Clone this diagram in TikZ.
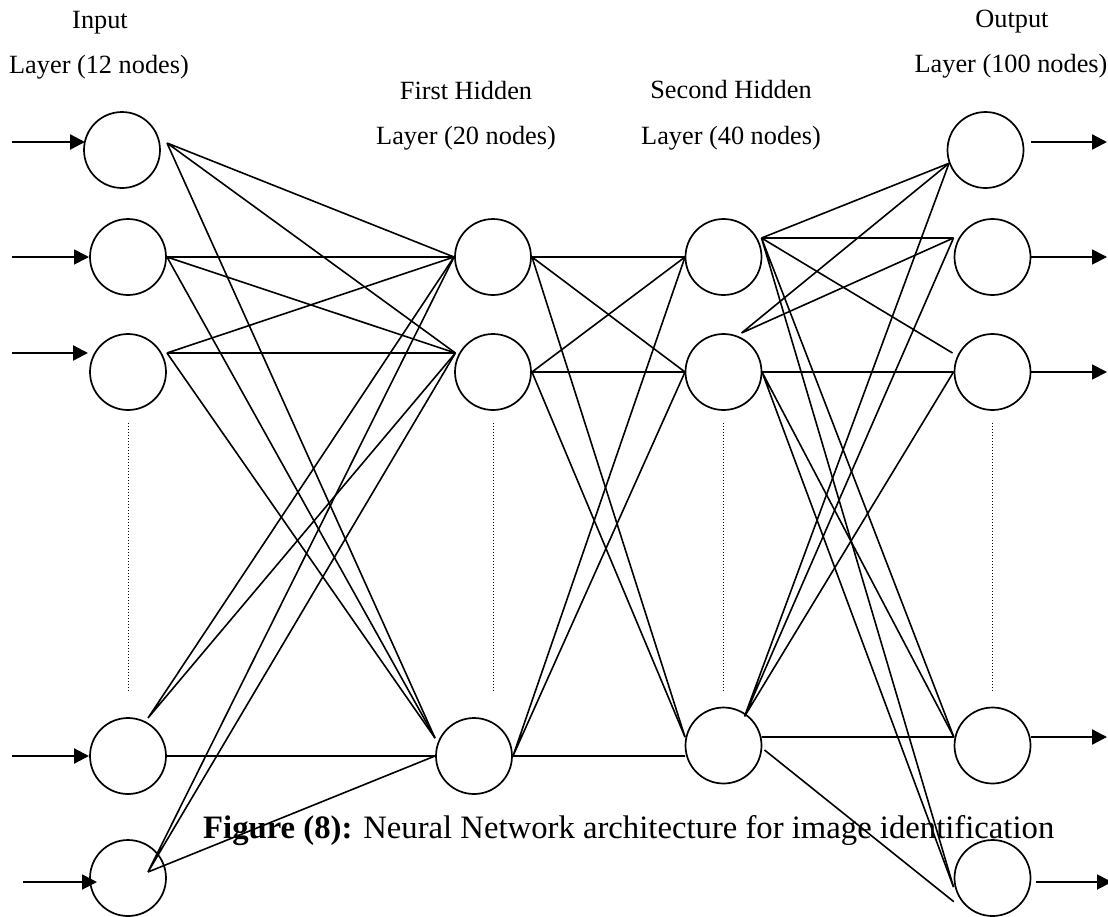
\documentclass[tikz,border=0pt]{standalone}
\usepackage{fontspec}
\setmainfont{Liberation Serif}
\usetikzlibrary{arrows.meta,calc}
\begin{document}
\begin{tikzpicture}[x=1pt,y=-1pt,
  neuron/.style={circle,draw,line width=1.7pt,minimum size=76pt,inner sep=0pt},
  link/.style={line width=1.6pt},
  feed/.style={line width=1.8pt,-{Triangle[length=15pt,width=15pt]}},
  feedbold/.style={feed,line width=2.3pt},
  gap/.style={line width=1pt,dash pattern=on 1pt off 2pt},
  layername/.style={anchor=base,inner sep=0pt,font=\fontsize{26.3}{30}\selectfont},
  captiontext/.style={anchor=base west,inner sep=0pt,font=\fontsize{32.7}{38}\selectfont},
]
\useasboundingbox (0,0) rectangle (1108,916);

% ---------- neurons ----------
\node[neuron] (i1) at (122,150) {};
\node[neuron] (i2) at (128,257) {};
\node[neuron] (i3) at (128,372) {};
\node[neuron] (i4) at (128,756) {};
\node[neuron] (i5) at (128,878) {};

\node[neuron] (a1) at (493,257) {};
\node[neuron] (a2) at (493,372) {};
\node[neuron] (a3) at (474,756) {};

\node[neuron] (b1) at (723.5,257) {};
\node[neuron] (b2) at (723.5,372) {};
\node[neuron] (b3) at (723.5,745.5) {};

\node[neuron] (o1) at (985.5,150) {};
\node[neuron] (o2) at (992.5,257) {};
\node[neuron] (o3) at (992.5,372) {};
\node[neuron] (o4) at (992.5,745.5) {};
\node[neuron] (o5) at (992.5,878) {};

% ---------- layer titles ----------
\node[layername] (tin1)  at (100,28)  {Input};
\node[layername] (tin2)  at (99,73)   {Layer (12 nodes)};
\node[layername] (th1a)  at (466,99)  {First Hidden};
\node[layername] (th1b)  at (466,144) {Layer (20 nodes)};
\node[layername] (th2a)  at (731,98)  {Second Hidden};
\node[layername] (th2b)  at (731,144) {Layer (40 nodes)};
\node[layername] (tout1) at (1012,27) {Output};
\node[layername] (tout2) at (1011,72) {Layer (100 nodes)};

% ---------- connection ports ----------
\coordinate (i1r) at ($(i1)+(45,-7)$);
\coordinate (i2r) at ($(i2)+(39,0)$);
\coordinate (i3r) at ($(i3)+(39,-19)$);
\coordinate (i4t) at ($(i4)+(20,-38)$);
\coordinate (i4r) at ($(i4)+(38,0)$);
\coordinate (i5p) at ($(i5)+(20,-6)$);

\coordinate (a1l) at ($(a1)+(-39,0)$);
\coordinate (a1r) at ($(a1)+(39,0)$);
\coordinate (a2l) at ($(a2)+(-37.6,-19)$);
\coordinate (a2r) at ($(a2)+(39,0)$);
\coordinate (a3t) at ($(a3)+(-39,-18)$);
\coordinate (a3l) at ($(a3)+(-39,0)$);
\coordinate (a3r) at ($(a3)+(39,0)$);

\coordinate (b1l) at ($(b1)+(-38.5,0)$);
\coordinate (b1r) at ($(b1)+(38,-19)$);
\coordinate (b2l) at ($(b2)+(-38.5,0)$);
\coordinate (b2t) at ($(b2)+(18,-39)$);
\coordinate (b2r) at ($(b2)+(38.5,0)$);
\coordinate (b3l) at ($(b3)+(-38.5,-8.5)$);
\coordinate (b3w) at ($(b3)+(-38.5,10.5)$);
\coordinate (b3t) at ($(b3)+(21,-29)$);
\coordinate (b3r) at ($(b3)+(38,-8.5)$);
\coordinate (b3s) at ($(b3)+(41,4.5)$);

\coordinate (o1l) at ($(o1)+(-36.5,13.3)$);
\coordinate (o2l) at ($(o2)+(-39,-19)$);
\coordinate (o3t) at ($(o3)+(-40,-19)$);
\coordinate (o3l) at ($(o3)+(-39,0)$);
\coordinate (o4l) at ($(o4)+(-38.7,-8.5)$);
\coordinate (o5l) at ($(o5)+(-39,9)$);
\coordinate (o5b) at ($(o5)+(-38.7,23.7)$);

% ---------- input layer to first hidden layer ----------
\draw[link] (i1r) -- (a1l) (i1r) -- (a2l) (i1r) -- (a3t);
\draw[link] (i2r) -- (a1l) (i2r) -- (a2l) (i2r) -- (a3t);
\draw[link] (i3r) -- (a1l) (i3r) -- (a2l) (i3r) -- (a3t);
\draw[link] (i4t) -- (a1l) (i4t) -- (a2l) (i4r) -- (a3l);
\draw[link] (i5p) -- (a1l) (i5p) -- (a2l) (i5p) -- (a3l);

% ---------- first hidden to second hidden layer ----------
\draw[link] (a1r) -- (b1l) (a1r) -- (b2l) (a1r) -- (b3l);
\draw[link] (a2r) -- (b1l) (a2r) -- (b2l) (a2r) -- (b3l);
\draw[link] (a3r) -- (b1l) (a3r) -- (b2l) (a3r) -- (b3w);

% ---------- second hidden layer to output layer ----------
\draw[link] (b1r) -- (o1l) (b1r) -- (o2l) (b1r) -- (o3t) (b1r) -- (o4l) (b1r) -- (o5l);
\draw[link] (b2t) -- (o1l) (b2t) -- (o2l);
\draw[link] (b2r) -- (o3l) (b2r) -- (o4l) (b2r) -- (o5l);
\draw[link] (b3t) -- (o1l) (b3t) -- (o2l) (b3t) -- (o3l);
\draw[link] (b3r) -- (o4l) (b3s) -- (o5b);

% ---------- elided neurons ----------
\draw[gap] ($(i3.south)+(0,12)$) -- ($(i3.south)+(0,280)$);
\draw[gap] ($(a2.south)+(0,12)$) -- ($(a2.south)+(0,280)$);
\draw[gap] ($(b2.south)+(0,12)$) -- ($(b2.south)+(0,280)$);
\draw[gap] ($(o3.south)+(0,12)$) -- ($(o3.south)+(0,280)$);

% ---------- inputs ----------
\coordinate (x1) at (12,142);
\coordinate (x2) at (12,257);
\coordinate (x3) at (12,353);
\coordinate (x4) at (12,756);
\coordinate (x5) at (23,882);
\draw[feedbold] (x1) -- ($(i1)+(-37,-8)$);
\draw[feed]     (x2) -- ($(i2)+(-39,0)$);
\draw[feedbold] (x3) -- ($(i3)+(-40,-19)$);
\draw[feedbold] (x4) -- ($(i4)+(-39,0)$);
\draw[feed]     (x5) -- ($(i5)+(-31,4)$);

% ---------- outputs ----------
\coordinate (y1) at (1107,142);
\coordinate (y2) at (1107,257);
\coordinate (y3) at (1107,372);
\coordinate (y4) at (1107,737);
\coordinate (y5) at (1112,882);
\draw[feedbold] ($(o1)+(45,-8)$)    -- (y1);
\draw[feed]     ($(o2)+(38.5,0)$)   -- (y2);
\draw[feed]     ($(o3)+(38.5,0)$)   -- (y3);
\draw[feedbold] ($(o4)+(38.5,-8.5)$) -- (y4);
\draw[feed]     ($(o5)+(43.5,4)$)   -- (y5);

% ---------- caption ----------
\node[captiontext] (caption) at (203,838)
  {\textbf{Figure (8):} Neural Network architecture for image identification};
\end{tikzpicture}
\end{document}
